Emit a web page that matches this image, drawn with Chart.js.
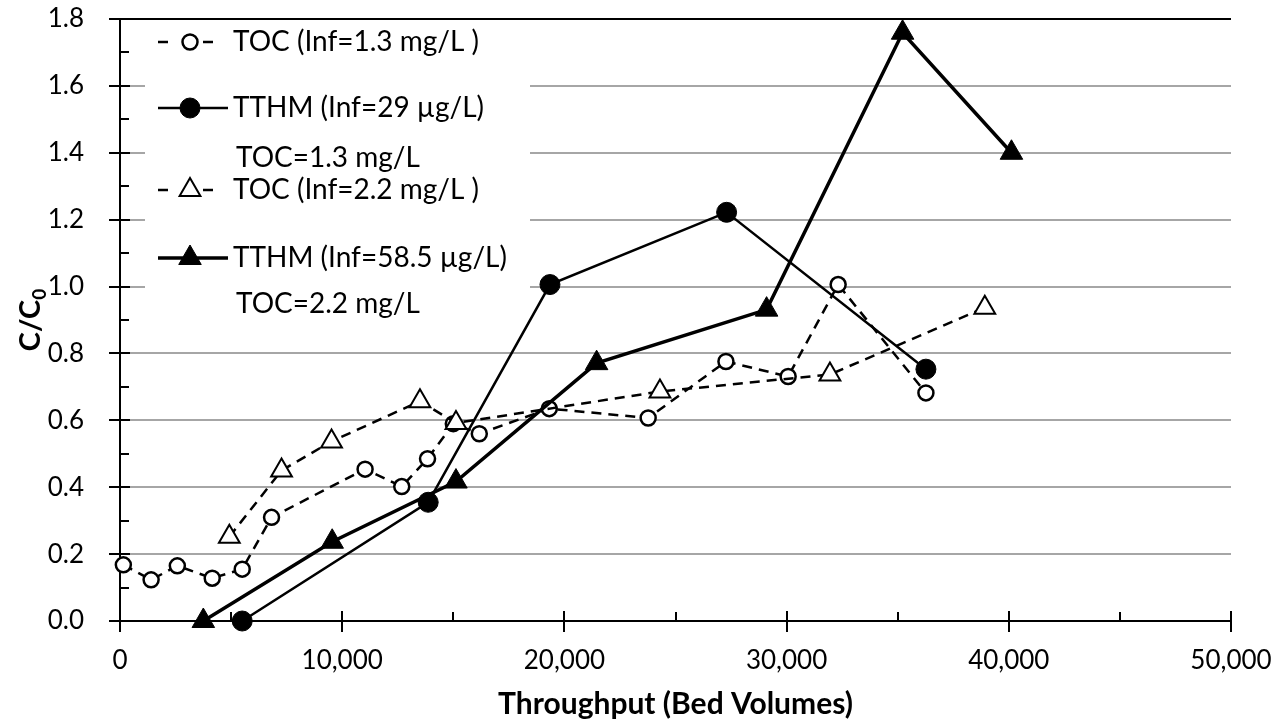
<!DOCTYPE html>
<html>
<head>
<meta charset="utf-8">
<script src="https://cdn.jsdelivr.net/npm/chart.js@4"></script>
<style>
  body { margin: 0; background: #fff; }
  canvas { display: block; }
</style>
</head>
<body>
<canvas id="chart" width="1278" height="725"></canvas>
<script>
// throughput (bed volumes) and C/C0 for each series
const tocLowX  = [150, 1400, 2580, 4150, 5500, 6820, 11030, 12680, 13840, 15000, 16170, 19320, 23770, 27270, 30070, 32320, 36270];
const tocLowY  = [0.168, 0.123, 0.165, 0.128, 0.155, 0.31, 0.454, 0.402, 0.485, 0.59, 0.56, 0.635, 0.607, 0.776, 0.731, 1.006, 0.682];
const tthmLowX = [5500, 13870, 19350, 27300, 36270];
const tthmLowY = [0.0, 0.355, 1.006, 1.222, 0.753];
const tocHighX  = [4920, 7270, 9520, 13500, 15120, 24300, 31950, 38920];
const tocHighY  = [0.252, 0.45, 0.537, 0.657, 0.592, 0.686, 0.737, 0.937];
const tthmHighX = [3750, 9550, 15120, 21450, 29100, 35220, 40120];
const tthmHighY = [0.0, 0.237, 0.417, 0.771, 0.931, 1.759, 1.40];

const legendLabels = [
    ["TOC (Inf=1.3 mg/L )"],
    ["TTHM (Inf=29 µg/L)", "TOC=1.3 mg/L"],
    ["TOC (Inf=2.2 mg/L )"],
    ["TTHM (Inf=58.5 µg/L)", "TOC=2.2 mg/L"]
];
const xTitle = "Throughput (Bed Volumes)";
const yTitle = "C/C";
const yTitleSub = "0";

const pts = (xs, ys) => xs.map((x, i) => ({ x: x, y: ys[i] }));

Chart.defaults.font.family = "Lato";
Chart.defaults.color = "#000";

const fmtThousands = v => String(Math.round(v)).replace(/\B(?=(\d{3})+(?!\d))/g, ",");

const decor = {
    id: "decor",
    beforeDatasetsDraw(chart) {
        const { ctx, chartArea: a, scales: { x, y } } = chart;
        ctx.save();
        // white box behind the legend
        ctx.fillStyle = "#fff";
        ctx.fillRect(145, a.top + 2, 385, 314);

        ctx.strokeStyle = "#000";
        ctx.lineWidth = 2;
        ctx.beginPath();
        ctx.moveTo(a.left, a.top - 1);
        ctx.lineTo(a.left, a.bottom);
        ctx.moveTo(a.left - 1, a.bottom);
        ctx.lineTo(a.right + 1, a.bottom);
        // y ticks
        for (let i = 0; i <= 18; i++) {
            const py = Math.round(y.getPixelForValue(i / 10));
            if (i % 2 === 0) {
                ctx.moveTo(a.left - 11, py);
                ctx.lineTo(a.left + 10, py);
            } else {
                ctx.moveTo(a.left, py);
                ctx.lineTo(a.left + 9, py);
            }
        }
        // x ticks
        for (let i = 0; i <= 10; i++) {
            const px = Math.round(x.getPixelForValue(i * 5000));
            if (i % 2 === 0) {
                ctx.moveTo(px, a.bottom - 10);
                ctx.lineTo(px, a.bottom + 11);
            } else {
                ctx.moveTo(px, a.bottom - 9);
                ctx.lineTo(px, a.bottom);
            }
        }
        ctx.stroke();
        ctx.restore();
    },
    afterDraw(chart) {
        const { ctx, chartArea: a } = chart;
        const sets = chart.data.datasets;
        ctx.save();
        ctx.fillStyle = "#000";

        // x title
        ctx.font = "bold 30px Lato";
        ctx.textAlign = "center";
        ctx.textBaseline = "alphabetic";
        ctx.fillText(xTitle, (a.left + a.right) / 2, 714);

        // y title with subscript
        ctx.save();
        ctx.translate(40, (a.top + a.bottom) / 2);
        ctx.rotate(-Math.PI / 2);
        ctx.font = "bold 29px Lato";
        const w1 = ctx.measureText(yTitle).width;
        ctx.font = "bold 19px Lato";
        const w2 = ctx.measureText(yTitleSub).width;
        ctx.textAlign = "left";
        ctx.font = "bold 29px Lato";
        ctx.fillText(yTitle, -(w1 + w2) / 2, 0);
        ctx.font = "bold 19px Lato";
        ctx.fillText(yTitleSub, -(w1 + w2) / 2 + w1, 6);
        ctx.restore();

        // legend
        const rows = [[42], [108, 158], [190], [258, 304]];
        const lineX0 = 158, lineX1 = 228, markX = 190;
        ctx.font = "28px Lato";
        ctx.textAlign = "left";
        ctx.textBaseline = "middle";
        sets.forEach((ds, i) => {
            const ry = rows[i][0];
            ctx.strokeStyle = "#000";
            ctx.lineWidth = ds.borderWidth;
            ctx.setLineDash([]);
            ctx.beginPath();
            if (ds.borderDash) {
                ctx.moveTo(lineX0, ry); ctx.lineTo(lineX0 + 10, ry);
                ctx.moveTo(markX + 13, ry); ctx.lineTo(markX + 23, ry);
            } else {
                ctx.moveTo(lineX0, ry); ctx.lineTo(lineX1, ry);
            }
            ctx.stroke();
            ctx.fillStyle = ds.pointBackgroundColor;
            ctx.strokeStyle = "#000";
            ctx.lineWidth = ds.pointBorderWidth;
            Chart.helpers.drawPoint(ctx, {
                pointStyle: ds.pointStyle,
                radius: ds.pointRadius,
                borderWidth: ds.pointBorderWidth,
                rotation: 0
            }, markX, ry);
            ctx.fillStyle = "#000";
            legendLabels[i].forEach((t, k) => {
                ctx.fillText(t, k === 0 ? 233 : 236, rows[i][k]);
            });
        });
        ctx.restore();
    }
};

new Chart(document.getElementById("chart"), {
    type: "scatter",
    data: {
        datasets: [
            {
                label: legendLabels[0].join(" "),
                data: pts(tocLowX, tocLowY),
                showLine: true,
                borderColor: "#000",
                borderWidth: 2.5,
                borderDash: [10, 7],
                pointStyle: "circle",
                pointRadius: 7.5,
                pointBorderWidth: 2.5,
                pointBackgroundColor: "#fff",
                pointBorderColor: "#000",
                order: 4,
                clip: false
            },
            {
                label: legendLabels[1].join(" "),
                data: pts(tthmLowX, tthmLowY),
                showLine: true,
                borderColor: "#000",
                borderWidth: 2.5,
                pointStyle: "circle",
                pointRadius: 10,
                pointBorderWidth: 1,
                pointBackgroundColor: "#000",
                pointBorderColor: "#000",
                order: 3,
                clip: false
            },
            {
                label: legendLabels[2].join(" "),
                data: pts(tocHighX, tocHighY),
                showLine: true,
                borderColor: "#000",
                borderWidth: 2.5,
                borderDash: [10, 7],
                pointStyle: "triangle",
                pointRadius: 12,
                pointBorderWidth: 2,
                pointBackgroundColor: "#fff",
                pointBorderColor: "#000",
                order: 2,
                clip: false
            },
            {
                label: legendLabels[3].join(" "),
                data: pts(tthmHighX, tthmHighY),
                showLine: true,
                borderColor: "#000",
                borderWidth: 3.5,
                pointStyle: "triangle",
                pointRadius: 13,
                pointBorderWidth: 1,
                pointBackgroundColor: "#000",
                pointBorderColor: "#000",
                order: 1,
                clip: false
            }
        ]
    },
    options: {
        responsive: false,
        animation: false,
        layout: { padding: { top: 19, right: 47, left: 0, bottom: 0 } },
        plugins: {
            legend: { display: false },
            tooltip: { enabled: false }
        },
        scales: {
            x: {
                type: "linear",
                min: 0,
                max: 50000,
                ticks: {
                    stepSize: 10000,
                    padding: 24,
                    font: { size: 26 },
                    maxRotation: 0,
                    callback: v => fmtThousands(v)
                },
                grid: { display: false, drawTicks: false },
                border: { display: false },
                afterFit: s => { s.height = 104; s.paddingLeft = 0; s.paddingRight = 0; }
            },
            y: {
                min: 0,
                max: 1.8,
                ticks: {
                    stepSize: 0.2,
                    padding: 36,
                    font: { size: 26 },
                    callback: v => v.toFixed(1)
                },
                grid: {
                    drawTicks: false,
                    lineWidth: 2,
                    color: c => (c.tick && Math.abs(c.tick.value - 1.8) < 1e-6) ? "#000" : "#a6a6a6"
                },
                border: { display: false },
                afterFit: s => { s.width = 120; s.paddingTop = 0; s.paddingBottom = 0; }
            }
        }
    },
    plugins: [decor]
});
</script>
</body>
</html>
